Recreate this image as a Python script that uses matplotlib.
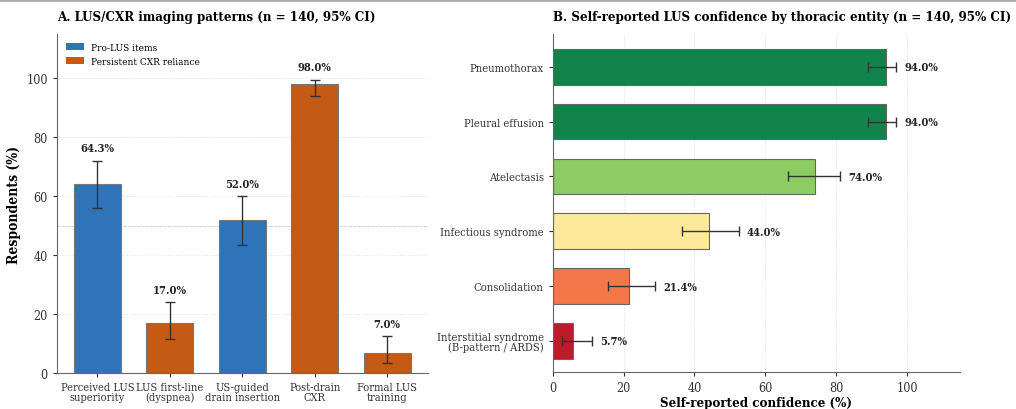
import numpy as np
import matplotlib
matplotlib.use("Agg")
import matplotlib.pyplot as plt
from matplotlib.patches import Patch
from matplotlib.lines import Line2D

plt.rcParams['font.family'] = ['DejaVu Serif']
plt.rcParams['font.stretch'] = 'condensed'

# panel A data
items = ['Perceived LUS\nsuperiority', 'LUS first-line\n(dyspnea)', 'US-guided\ndrain insertion',
         'Post-drain\nCXR', 'Formal LUS\ntraining']
item_pct = [64.3, 17.0, 52.0, 98.0, 7.0]
item_lo = [56.0, 11.5, 43.5, 94.0, 3.5]
item_hi = [72.0, 24.0, 60.0, 99.5, 12.5]
item_group = ['pro', 'cxr', 'pro', 'cxr', 'cxr']

# panel B data (top to bottom)
entities = ['Pneumothorax', 'Pleural effusion', 'Atelectasis', 'Infectious syndrome',
            'Consolidation', 'Interstitial syndrome\n(B-pattern / ARDS)']
conf_pct = [94.0, 94.0, 74.0, 44.0, 21.4, 5.7]
conf_lo = [89.0, 89.0, 66.5, 36.5, 15.5, 2.5]
conf_hi = [97.0, 97.0, 81.0, 52.5, 29.0, 11.0]
conf_colors = ['#10844a', '#10844a', '#8ccc62', '#fee99b', '#f4774a', '#bd1a2a']

group_colors = {'pro': '#2e74b8', 'cxr': '#c55a14'}

fig = plt.figure(figsize=(10.16, 4.10), dpi=100)
ax1 = fig.add_axes([0.056, 0.087, 0.365, 0.828])
ax2 = fig.add_axes([0.544, 0.09, 0.401, 0.825])

# ---- panel A
x = np.arange(len(items))
cols = [group_colors[g] for g in item_group]
yerr = [np.array(item_pct) - np.array(item_lo), np.array(item_hi) - np.array(item_pct)]
ax1.bar(x, item_pct, width=0.65, color=cols, edgecolor='#777777', linewidth=0.8, zorder=2)
ax1.errorbar(x, item_pct, yerr=yerr, fmt='none', ecolor='#333333', elinewidth=1.0,
             capsize=3.5, capthick=1.0, zorder=3)
for xi, v, hi in zip(x, item_pct, item_hi):
    ax1.text(xi, hi + 2.5, f'{v:.1f}%', ha='center', va='bottom', fontsize=8, fontweight='bold',
             color='#222222')
ax1.axhline(50, color='#cccccc', linestyle='--', linewidth=0.6, zorder=1)
ax1.set_ylim(0, 115)
ax1.set_xlim(-0.56, 4.56)
ax1.set_xticks(x)
ax1.set_xticklabels(items, fontsize=7.9, linespacing=0.95)
ax1.set_yticks([0, 20, 40, 60, 80, 100])
ax1.tick_params(axis='both', labelsize=9, colors='#333333', length=3)
ax1.tick_params(axis='x', labelsize=7.9)
ax1.set_ylabel('Respondents (%)', fontsize=10, fontweight='bold')
ax1.set_title('A. LUS/CXR imaging patterns (n = 140, 95% CI)', fontsize=9.5, fontweight='bold',
              pad=10, loc='left')
ax1.yaxis.grid(True, linestyle=':', color='#e0e0e0', linewidth=0.7, zorder=0)
ax1.set_axisbelow(True)
for s in ['top', 'right']:
    ax1.spines[s].set_visible(False)
for s in ['left', 'bottom']:
    ax1.spines[s].set_color('#666666')
handles = [Patch(facecolor=group_colors['pro'], label='Pro-LUS items'),
           Patch(facecolor=group_colors['cxr'], label='Persistent CXR reliance')]
ax1.legend(handles=handles, loc='upper left', fontsize=7.2, frameon=False,
           handlelength=1.8, handleheight=0.6, handletextpad=0.7,
           borderaxespad=0.5, labelspacing=0.5)

# ---- panel B
y = np.arange(len(entities))
xerr = [np.array(conf_pct) - np.array(conf_lo), np.array(conf_hi) - np.array(conf_pct)]
ax2.barh(y, conf_pct, height=0.65, color=conf_colors, edgecolor='#666666', linewidth=0.8, zorder=2)
ax2.errorbar(conf_pct, y, xerr=xerr, fmt='none', ecolor='#333333', elinewidth=1.0,
             capsize=3.5, capthick=1.0, zorder=3)
for yi, v, hi in zip(y, conf_pct, conf_hi):
    ax2.text(hi + 2.3, yi, f'{v:.1f}%', ha='left', va='center', fontsize=8, fontweight='bold',
             color='#222222')
ax2.set_yticks(y)
ax2.set_yticklabels(entities, fontsize=8, linespacing=0.95)
ax2.set_ylim(len(entities) - 0.43, -0.6)
ax2.set_xlim(0, 115)
ax2.set_xticks([0, 20, 40, 60, 80, 100])
ax2.tick_params(axis='both', labelsize=9, colors='#333333', length=3)
ax2.tick_params(axis='y', labelsize=8)
ax2.set_xlabel('Self-reported confidence (%)', fontsize=9.5, fontweight='bold', labelpad=1)
ax2.set_title('B. Self-reported LUS confidence by thoracic entity (n = 140, 95% CI)',
              fontsize=9.5, fontweight='bold', pad=10, loc='left')
ax2.xaxis.grid(True, linestyle=':', color='#e0e0e0', linewidth=0.7, zorder=0)
ax2.set_axisbelow(True)
for s in ['top', 'right']:
    ax2.spines[s].set_visible(False)
for s in ['left', 'bottom']:
    ax2.spines[s].set_color('#666666')

fig.add_artist(Line2D([0, 1], [0.997, 0.997], transform=fig.transFigure, color='#aaaaaa', linewidth=2))

fig.savefig('out.png', dpi=100)
